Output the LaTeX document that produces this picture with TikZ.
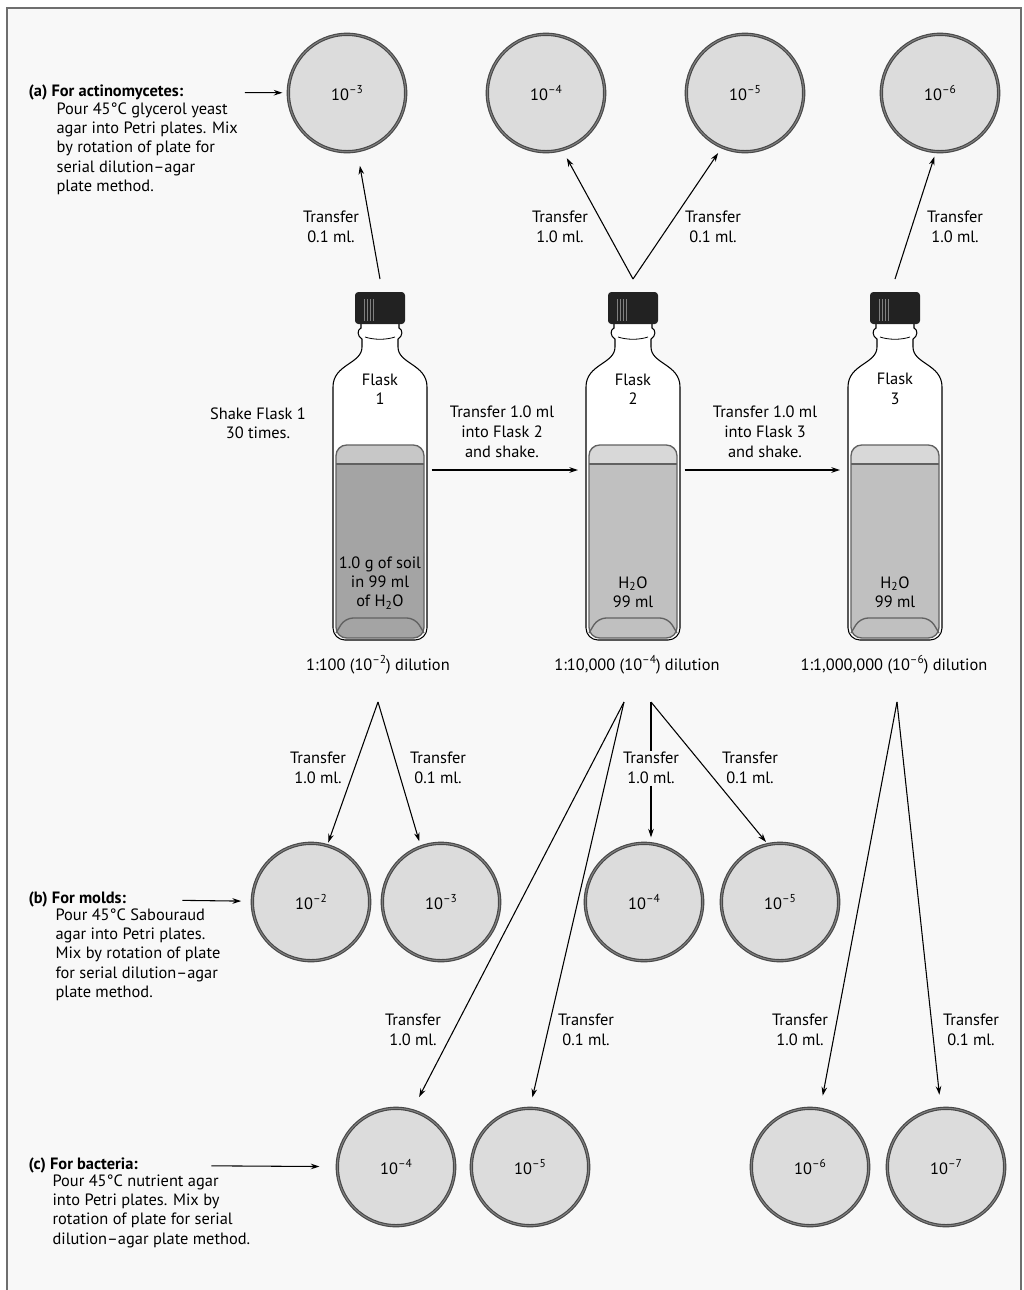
\documentclass[tikz,border=0pt]{standalone}
\usepackage{fontspec}
\setmainfont{PT Sans}
\usetikzlibrary{arrows.meta, positioning}
\definecolor{framegray}{HTML}{6E6E6E}
\definecolor{panelbg}{HTML}{F8F8F8}
\definecolor{agar}{HTML}{DCDCDC}
\definecolor{rimgray}{HTML}{484848}
\definecolor{soilmix}{HTML}{A4A4A4}
\definecolor{water}{HTML}{C0C0C0}
\definecolor{capblack}{HTML}{222222}
\newcommand\expo[1]{\raisebox{0.85ex}{\fontsize{8.6}{9}\selectfont #1}}

\tikzset{
  liquid/.style={draw=black!62, line width=1pt},
  % culture flask, origin at the top of the cap
  bottle/.pic={
    \draw[line width=0.8pt, fill=white] (-19,32) -- (-19,36)
      .. controls (-23,38) and (-23,44) .. (-18,47) -- (-18,55)
      .. controls (-18,72) and (-47,72) .. (-47,95) -- (-47,300)
      [rounded corners=9pt] -- (-47,348) -- (47,348) -- (47,300)
      [sharp corners] -- (47,95)
      .. controls (47,72) and (18,72) .. (18,55) -- (18,47)
      .. controls (23,44) and (23,38) .. (19,36) -- (19,32);
    % liquid
    \fill[#1!62!white, rounded corners=8pt] (-44,153) rectangle (44,346);
    \fill[#1] (-44,172) rectangle (44,320);
    \fill[#1, rounded corners=8pt] (-44,250) rectangle (44,346);
    \draw[liquid, rounded corners=8pt] (-44,153) rectangle (44,346);
    \draw[liquid] (-44,172) -- (44,172);
    \draw[liquid, rounded corners=6pt] (-44,341) -- (-35,326) -- (35,326) -- (44,341);
    % cap
    \fill[capblack, rounded corners=2.5pt] (-25,0) rectangle (25,32);
    \foreach \r in {-16,-13,-10,-7}
      \draw[black!50, line width=0.5pt] (\r,7) -- (\r,29);
    \draw[line width=0.6pt] (-15,45) .. controls (-6,48) and (6,48) .. (15,45);
    \coordinate (top) at (0,-13);
    \coordinate (left) at (-47,178);
    \coordinate (right) at (47,178);
  }
}

\begin{document}
\begin{tikzpicture}[x=0.75pt, y=-0.75pt,
  every node/.style={font=\fontsize{12.3}{14.5}\selectfont, inner sep=1pt},
  dish/.style={circle, minimum size=88pt, inner sep=0pt, fill=agar, draw=rimgray, line width=0.85pt, double=rimgray!70, double distance=0.8pt},
  arr/.style={-{Stealth[length=6.5pt, width=4.2pt]}, line width=0.8pt},
  xfer/.style={align=center, font=\fontsize{12.3}{15}\selectfont},
  head/.style={font=\fontsize{12.3}{14.5}\selectfont\bfseries, anchor=west},
  desc/.style={align=left, anchor=north west},
]
\useasboundingbox (0,0) rectangle (1024,1290);
\fill[white] (0,0) rectangle (1024,1290);
\fill[panelbg] (7,8) rectangle (1021,1300);
\draw[framegray, line width=2.2pt] (7,1300) -- (7,8) -- (1021,8) -- (1021,1300);

% flasks
\pic (f1) at (380,292) {bottle=soilmix};
\pic (f2) at (633,292) {bottle=water};
\pic (f3) at (895,292) {bottle=water};

\node[align=center] (n1) at (380,389) {Flask\\1};
\node[align=center] (n2) at (633,389) {Flask\\2};
\node[align=center] (n3) at (895,389) {Flask\\3};
\node[align=center] (c1) at (380,583) {1.0 g of soil\\in 99 ml\\of H\textsubscript{2}O};
\node[align=center] (c2) at (633,592) {H\textsubscript{2}O\\99 ml};
\node[align=center] (c3) at (895,592) {H\textsubscript{2}O\\99 ml};

\node (dil1) at (378,665) {1:100 (10\expo{–2}) dilution};
\node (dil2) at (637,665) {1:10,000 (10\expo{–4}) dilution};
\node (dil3) at (894,665) {1:1,000,000 (10\expo{–6}) dilution};

\node[align=center] (shake) at (258,423) {Shake Flask 1\\30 times.};
\node[xfer] (t12) at (502,432) {Transfer 1.0 ml\\into Flask 2\\and shake.};
\node[xfer] (t23) at (765,432) {Transfer 1.0 ml\\into Flask 3\\and shake.};
\draw[arr, shorten <=3.5pt, shorten >=6pt] (f1right) -- (f2left);
\draw[arr, shorten <=3.5pt, shorten >=6pt] (f2right) -- (f3left);

% (a) actinomycetes plates
\node[head] (ahead) at (27,92) {(a) For actinomycetes:};
\node[desc] (adesc) at (55,101) {Pour 45°C glycerol yeast\\agar into Petri plates. Mix\\by rotation of plate for\\serial dilution–agar\\plate method.};
\node[dish] (a3) at (347,93) {10\expo{–3}};
\node[dish] (a4) at (546,93) {10\expo{–4}};
\node[dish] (a5) at (745,93) {10\expo{–5}};
\node[dish] (a6) at (940,93) {10\expo{–6}};
\draw[arr, shorten <=45pt, shorten >=4pt] (ahead) -- (a3);

\node[xfer] (ta3) at (331,227) {Transfer\\0.1 ml.};
\node[xfer] (ta4) at (560,227) {Transfer\\1.0 ml.};
\node[xfer] (ta5) at (713,227) {Transfer\\0.1 ml.};
\node[xfer] (ta6) at (955,227) {Transfer\\1.0 ml.};
\draw[arr, shorten >=11pt] (f1top) -- (a3.-80);
\draw[arr, shorten >=7pt] (f2top) -- (a4.-74);
\draw[arr, shorten >=5pt] (f2top) -- (a5.-113);
\draw[arr, shorten >=3.5pt] (f3top) -- (a6.-94);

% split points below the dilution labels
\coordinate (s1) at (378,702);
\coordinate (s2a) at (624,702);
\coordinate (s2b) at (651,702);
\coordinate (s3) at (897,702);

% (b) mold plates
\node[head] (bhead) at (27,899) {(b) For molds:};
\node[desc] (bdesc) at (54,907) {Pour 45°C Sabouraud\\agar into Petri plates.\\Mix by rotation of plate\\for serial dilution–agar\\plate method.};
\node[dish] (m2) at (311,902) {10\expo{–2}};
\node[dish] (m3) at (441,902) {10\expo{–3}};
\node[dish] (m4) at (644,902) {10\expo{–4}};
\node[dish] (m5) at (780,902) {10\expo{–5}};
\draw[arr, shorten <=41pt, shorten >=8pt] (bhead) -- (m2);

\node[xfer] (tm2) at (318,768) {Transfer\\1.0 ml.};
\node[xfer] (tm3) at (438,768) {Transfer\\0.1 ml.};
\node[xfer, fill=panelbg] (tm4) at (651,768) {Transfer\\1.0 ml.};
\node[xfer] (tm5) at (750,768) {Transfer\\0.1 ml.};
\draw[arr, shorten >=2pt] (s1) -- (m2.74);
\draw[arr, shorten >=4pt] (s1) -- (m3.110);
\draw[line width=0.8pt] (s2b) -- (tm4);
\draw[arr, shorten >=4pt] (tm4) -- (tm4 |- m4.north);
\draw[arr, shorten >=2pt] (s2b) -- (m5.102);

% (c) bacteria plates
\node[head] (chead) at (27,1165) {(c) For bacteria:};
\node[desc] (cdesc) at (51,1173) {Pour 45°C nutrient agar\\into Petri plates. Mix by\\rotation of plate for serial\\dilution–agar plate method.};
\node[dish] (b4) at (396,1167) {10\expo{–4}};
\node[dish] (b5) at (530,1167) {10\expo{–5}};
\node[dish] (b6) at (810,1167) {10\expo{–6}};
\node[dish] (b7) at (946,1167) {10\expo{–7}};
\draw[arr, shorten <=54pt, shorten >=13pt] (chead) -- (b4);

\node[xfer] (tb4) at (413,1030) {Transfer\\1.0 ml.};
\node[xfer] (tb5) at (586,1030) {Transfer\\0.1 ml.};
\node[xfer] (tb6) at (800,1030) {Transfer\\1.0 ml.};
\node[xfer] (tb7) at (971,1030) {Transfer\\0.1 ml.};
\draw[arr, shorten >=11pt] (s2a) -- (b4.74);
\draw[arr, shorten >=8pt] (s2a) -- (b5.90);
\draw[arr, shorten >=10pt] (s3) -- (b6.80);
\draw[arr, shorten >=10pt] (s3) -- (b7.95);
\end{tikzpicture}
\end{document}
